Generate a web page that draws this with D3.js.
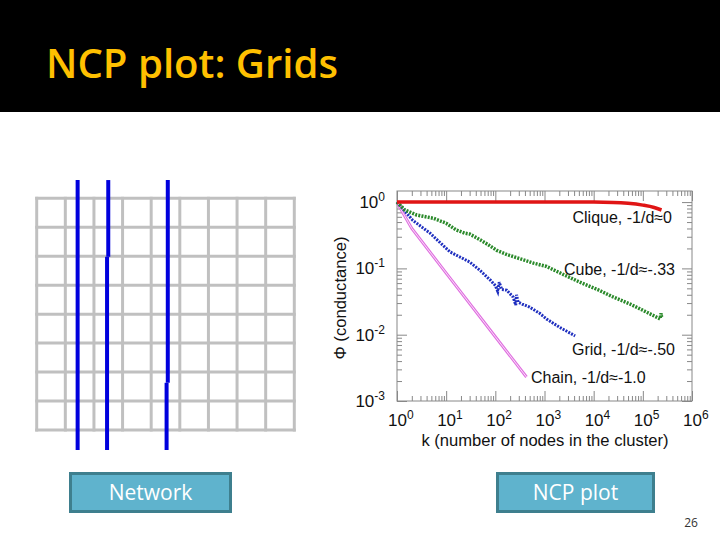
<!DOCTYPE html>
<html><head><meta charset="utf-8">
<script src="https://cdn.jsdelivr.net/npm/d3@7"></script>
<style>body{margin:0;background:#fff;} svg{display:block}</style>
</head><body>
<script>
// ---------- data ----------
const titleText = "NCP plot: Grids";
const buttonLabels = ["Network", "NCP plot"];
const pageNumber = "26";

const gridCols = d3.range(10);           // vertical grid lines
const gridRows = d3.range(9);            // horizontal grid lines
const cutCols = [1.43, 2.5, 4.58];       // blue cut lines (in column units)

const xTickExps = [0, 1, 2, 3, 4, 5, 6];
const yTickExps = [0, -1, -2, -3];
const xTitle = "k (number of nodes in the cluster)";
const yTitle = "\u03A6 (conductance)";
const seriesNames = ["Clique, -1/d\u22480", "Cube, -1/d\u2248-.33", "Grid, -1/d\u2248-.50", "Chain, -1/d\u2248-1.0"];

const kClique   = [1, 10, 100, 1000, 10000, 25000, 50000, 100000, 170000, 240000];
const phiClique = [1, 1, 1, 1, 1, 0.99, 0.96, 0.9, 0.83, 0.76];

const kCube   = [1, 1.45, 2.5, 5.5, 10, 16, 24, 30, 38, 49, 70, 107, 180, 316, 600, 1100, 2500, 5250, 12000, 25000, 55000, 118000, 224000, 235000, 240000];
const phiCube = [1, 0.76, 0.64, 0.57, 0.48, 0.38, 0.34, 0.33, 0.30, 0.27, 0.23, 0.187, 0.16, 0.14, 0.12, 0.107, 0.08, 0.062, 0.048, 0.037, 0.029, 0.022, 0.0173, 0.021, 0.0185];

const kGrid   = [1, 2.1, 4.7, 12, 30, 49, 80, 100, 112, 120, 135, 170, 230, 260, 270, 290, 350, 500, 800, 1100, 2000, 4200];
const phiGrid = [1, 0.53, 0.34, 0.177, 0.125, 0.093, 0.066, 0.055, 0.045, 0.062, 0.048, 0.047, 0.037, 0.028, 0.040, 0.031, 0.029, 0.026, 0.021, 0.0173, 0.013, 0.0096];

const kChain   = [1, 1.3, 2, 10, 100, 430];
const phiChain = [1, 0.7, 0.4, 0.085, 0.0093, 0.0023];

// ---------- drawing ----------
const W = 720, H = 540;
const svg = d3.select("body").append("svg").attr("width", W).attr("height", H);

// header
svg.append("rect").attr("x", 0).attr("y", 0).attr("width", W).attr("height", 112).attr("fill", "#000");
svg.append("text").attr("x", 46).attr("y", 78)
  .attr("font-family", "'Open Sans', sans-serif").attr("font-size", 40).attr("font-weight", 600)
  .attr("fill", "#ffc000").attr("textLength", 292).attr("lengthAdjust", "spacingAndGlyphs")
  .text(titleText);

// network grid
const gx = d3.scaleLinear().domain([0, 9]).range([36.7, 294.3]);
const gy = d3.scaleLinear().domain([0, 8]).range([198.3, 430]);
const net = svg.append("g");
net.selectAll("line.v").data(gridCols).join("line").attr("class", "v")
  .attr("x1", d => gx(d)).attr("x2", d => gx(d)).attr("y1", gy(0) - 1.5).attr("y2", gy(8) + 1.5)
  .attr("stroke", "#c0c0c0").attr("stroke-width", 3);
net.selectAll("line.h").data(gridRows).join("line").attr("class", "h")
  .attr("y1", d => gy(d)).attr("y2", d => gy(d)).attr("x1", gx(0) - 1.5).attr("x2", gx(9) + 1.5)
  .attr("stroke", "#c0c0c0").attr("stroke-width", 3);
// cut lines with small jogs
const jogs = [null, {y: 2.02, dx: -1.2}, {y: 6.37, dx: -1.2}];
cutCols.forEach((c, i) => {
  const xx = gx(c);
  const j = jogs[i];
  if (!j) {
    net.append("line").attr("x1", xx).attr("x2", xx).attr("y1", gy(-0.63)).attr("y2", gy(8.69))
      .attr("stroke", "#0000dd").attr("stroke-width", 4);
  } else {
    net.append("line").attr("x1", xx).attr("x2", xx).attr("y1", gy(-0.63)).attr("y2", gy(j.y))
      .attr("stroke", "#0000dd").attr("stroke-width", 4);
    net.append("line").attr("x1", xx + j.dx).attr("x2", xx + j.dx).attr("y1", gy(j.y)).attr("y2", gy(8.69))
      .attr("stroke", "#0000dd").attr("stroke-width", 4);
  }
});

// NCP plot
const px0 = 397, px1 = 692, py0 = 191, py1 = 401;
const x = d3.scaleLog().domain([1, 1e6]).range([px0, px1]);
const y = d3.scaleLog().domain([1e-3, 1.47]).range([py1, py0]);
const plot = svg.append("g");

const majorX = xTickExps.map(e => Math.pow(10, e));
const minorX = [];
xTickExps.slice(0, -1).forEach(e => [2,3,4,5,6,7,8,9].forEach(m => minorX.push(m * Math.pow(10, e))));
const majorY = yTickExps.map(e => Math.pow(10, e));
const minorY = [];
[-3, -2, -1].forEach(e => [2,3,4,5,6,7,8,9].forEach(m => minorY.push(m * Math.pow(10, e))));

function styleAxis(g) {
  g.select(".domain").remove();
  g.selectAll(".tick line").attr("stroke", "#888").attr("stroke-width", 1);
}
// minor ticks
plot.append("g").attr("transform", `translate(0,${py1})`)
  .call(d3.axisBottom(x).tickValues(minorX).tickSizeInner(-5).tickSizeOuter(0).tickFormat("")).call(styleAxis);
plot.append("g").attr("transform", `translate(0,${py0})`)
  .call(d3.axisTop(x).tickValues(minorX).tickSizeInner(-5).tickSizeOuter(0).tickFormat("")).call(styleAxis);
plot.append("g").attr("transform", `translate(${px0},0)`)
  .call(d3.axisLeft(y).tickValues(minorY).tickSizeInner(-5).tickSizeOuter(0).tickFormat("")).call(styleAxis);
plot.append("g").attr("transform", `translate(${px1},0)`)
  .call(d3.axisRight(y).tickValues(minorY).tickSizeInner(-5).tickSizeOuter(0).tickFormat("")).call(styleAxis);
// major ticks
const xb = plot.append("g").attr("transform", `translate(0,${py1})`)
  .call(d3.axisBottom(x).tickValues(majorX).tickSizeInner(-10).tickSizeOuter(0).tickPadding(9)).call(styleAxis);
plot.append("g").attr("transform", `translate(0,${py0})`)
  .call(d3.axisTop(x).tickValues(majorX).tickSizeInner(-10).tickSizeOuter(0).tickFormat("")).call(styleAxis);
const yl = plot.append("g").attr("transform", `translate(${px0},0)`)
  .call(d3.axisLeft(y).tickValues(majorY).tickSizeInner(-10).tickSizeOuter(0).tickPadding(12)).call(styleAxis);
plot.append("g").attr("transform", `translate(${px1},0)`)
  .call(d3.axisRight(y).tickValues(majorY).tickSizeInner(-10).tickSizeOuter(0).tickFormat("")).call(styleAxis);

function supLabel(sel, anchor) {
  sel.selectAll(".tick text").each(function(d) {
    const t = d3.select(this);
    t.text(null).attr("font-family", "'Liberation Sans', Arial, sans-serif").attr("font-size", 17).attr("fill", "#111");
    if (anchor === "bottom") t.attr("text-anchor", "start").attr("x", -9.5).attr("dy", "0.95em");
    else t.attr("text-anchor", "end");
    t.append("tspan").text("10");
    t.append("tspan").attr("dy", -7).attr("font-size", 12).text(Math.round(Math.log10(d)));
  });
}
supLabel(xb, "bottom");
supLabel(yl, "left");

// frame
plot.append("rect").attr("x", px0).attr("y", py0).attr("width", px1 - px0).attr("height", py1 - py0)
  .attr("fill", "none").attr("stroke", "#888").attr("stroke-width", 1);

const line = d3.line().x(d => x(d[0])).y(d => y(d[1]));
const zip = (a, b) => a.map((v, i) => [v, b[i]]);

// chain: double thin line
plot.append("path").datum(zip(kChain, phiChain)).attr("d", line)
  .attr("fill", "none").attr("stroke", "#e070e0").attr("stroke-width", 3);
plot.append("path").datum(zip(kChain, phiChain)).attr("d", line)
  .attr("fill", "none").attr("stroke", "#fae0fa").attr("stroke-width", 1);
// grid
plot.append("path").datum(zip(kGrid, phiGrid)).attr("d", line)
  .attr("fill", "none").attr("stroke", "#1f2fbf").attr("stroke-width", 3).attr("stroke-dasharray", "2,1.2");
// cube
plot.append("path").datum(zip(kCube, phiCube)).attr("d", line)
  .attr("fill", "none").attr("stroke", "#2b8a2b").attr("stroke-width", 3.5).attr("stroke-dasharray", "2,1.2");
// clique
plot.append("path").datum(zip(kClique, phiClique)).attr("d", d3.line().curve(d3.curveMonotoneX).x(d => x(d[0])).y(d => y(d[1])))
  .attr("fill", "none").attr("stroke", "#e01515").attr("stroke-width", 3.5);

// series labels
const labelPos = [
  {x: 672, y: 223, anchor: "end"},
  {x: 675, y: 275, anchor: "end"},
  {x: 675, y: 355, anchor: "end"},
  {x: 531, y: 383, anchor: "start"}
];
plot.selectAll("text.lab").data(seriesNames).join("text").attr("class", "lab")
  .attr("x", (d, i) => labelPos[i].x).attr("y", (d, i) => labelPos[i].y)
  .attr("text-anchor", (d, i) => labelPos[i].anchor)
  .attr("font-family", "'Liberation Sans', Arial, sans-serif").attr("font-size", 16).attr("fill", "#111")
  .text(d => d);

// axis titles
plot.append("text").attr("x", 545).attr("y", 446).attr("text-anchor", "middle")
  .attr("font-family", "'Liberation Sans', Arial, sans-serif").attr("font-size", 16.6).attr("fill", "#111")
  .text(xTitle);
plot.append("text").attr("transform", "translate(346,298) rotate(-90)").attr("text-anchor", "middle")
  .attr("font-family", "'Liberation Sans', Arial, sans-serif").attr("font-size", 16.6).attr("fill", "#111")
  .text(yTitle);

// buttons
const btn = [{x: 69, w: 163}, {x: 496, w: 159}];
buttonLabels.forEach((t, i) => {
  svg.append("rect").attr("x", btn[i].x + 1.5).attr("y", 473.5).attr("width", btn[i].w - 3).attr("height", 38)
    .attr("fill", "#5fb3cd").attr("stroke", "#3e7f8e").attr("stroke-width", 3);
  svg.append("text").attr("x", btn[i].x + btn[i].w / 2).attr("y", 499.5).attr("text-anchor", "middle")
    .attr("font-family", "'Open Sans', sans-serif").attr("font-size", 21).attr("fill", "#fff").text(t);
});

svg.append("text").attr("x", 691).attr("y", 527).attr("text-anchor", "middle")
  .attr("font-family", "'Open Sans', sans-serif").attr("font-size", 12).attr("fill", "#333").text(pageNumber);
</script>
</body></html>
